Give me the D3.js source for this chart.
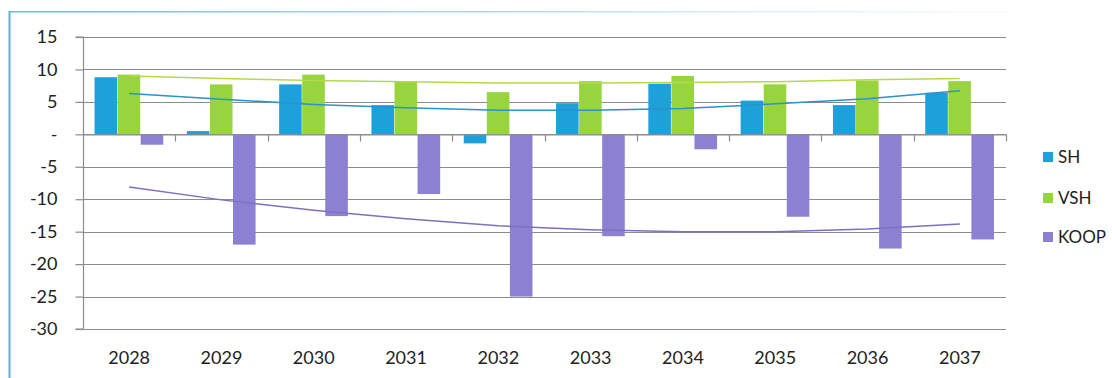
<!DOCTYPE html>
<html><head><meta charset="utf-8">
<script src="https://cdn.jsdelivr.net/npm/d3@7/dist/d3.min.js"></script>
<style>
html,body{margin:0;padding:0;background:#fff;}
svg{display:block;font-family:Lato,"Open Sans",sans-serif;}
</style></head>
<body><svg id="c" width="1112" height="378"></svg>
<script>
const years = ["2028","2029","2030","2031","2032","2033","2034","2035","2036","2037"];
const seriesNames = ["SH","VSH","KOOP"];
const SH   = [8.8, 0.5, 7.7, 4.5, -1.4, 4.8, 7.8, 5.2, 4.5, 6.4];
const VSH  = [9.2, 7.7, 9.2, 8.2, 6.5, 8.2, 9.0, 7.7, 8.3, 8.2];
const KOOP = [-1.6, -17.0, -12.6, -9.2, -25.0, -15.7, -2.3, -12.7, -17.6, -16.2];
const SH_trend   = [6.3, 5.4, 4.6, 4.1, 3.7, 3.7, 4.0, 4.7, 5.5, 6.7];
const VSH_trend  = [9.0, 8.6, 8.3, 8.1, 7.9, 7.9, 8.0, 8.1, 8.4, 8.6];
const KOOP_trend = [-8.1, -10.1, -11.7, -13.0, -14.1, -14.7, -15.0, -15.0, -14.6, -13.8];
const yTicks = [15, 10, 5, 0, -5, -10, -15, -20, -25, -30];

const colors = {SH:"#1ea0da", VSH:"#97d43e", KOOP:"#8c80d3"};
const trendColors = {SH:"#2a92cc", VSH:"#b6d94c", KOOP:"#7b71c2"};
const values = {SH, VSH, KOOP};
const trends = {SH:SH_trend, VSH:VSH_trend, KOOP:KOOP_trend};

const svg = d3.select("#c");
const L = 83, R = 1006, T = 37, B = 329;

// frame
const defs = svg.append("defs");
const g1 = defs.append("linearGradient").attr("id","topfade").attr("x1","0").attr("x2","1");
g1.append("stop").attr("offset","0").attr("stop-color","#6cb9e0").attr("stop-opacity",1);
g1.append("stop").attr("offset","0.5").attr("stop-color","#9ed0ea").attr("stop-opacity",0.8);
g1.append("stop").attr("offset","1").attr("stop-color","#e4f1f8").attr("stop-opacity",0.3);
svg.append("rect").attr("x",9).attr("y",11).attr("width",1000).attr("height",1.5).attr("fill","url(#topfade)");
svg.append("rect").attr("x",8.5).attr("y",11).attr("width",2).attr("height",367).attr("fill","#5db1dd");

const x = d3.scaleBand().domain(years).range([L, R]).paddingInner(0).paddingOuter(0);
const bw = x.bandwidth();
const x1 = d3.scaleBand().domain(seriesNames).range([bw/8, bw*7/8]).padding(0);
const y = d3.scaleLinear().domain([-30, 15]).range([B, T]);

// gridlines
svg.append("g").selectAll("line").data(yTicks).join("line")
  .attr("x1", L).attr("x2", R)
  .attr("y1", d => Math.round(y(d)) + 0.5).attr("y2", d => Math.round(y(d)) + 0.5)
  .attr("stroke", "#8c8c8c").attr("stroke-width", 1.2);

// y axis
const yAxis = d3.axisLeft(y).tickValues(yTicks).tickSize(8).tickPadding(18)
  .tickFormat(d => d === 0 ? "-" : String(d));
const ya = svg.append("g").attr("transform", `translate(${L + 0.5},0)`).call(yAxis);
ya.select(".domain").attr("stroke", "#8c8c8c").attr("stroke-width", 1.2).attr("d", `M-8,${y(15)}H0V${y(-30)}H-8`);
ya.selectAll(".tick line").attr("stroke", "#8c8c8c").attr("stroke-width", 1.2);
ya.selectAll(".tick text").attr("font-size", 18).attr("fill", "#222").attr("font-family","Lato,sans-serif");

// bars
const bars = svg.append("g");
seriesNames.forEach(s => {
  bars.selectAll(null).data(years).join("rect")
    .attr("x", d => x(d) + x1(s))
    .attr("width", x1.bandwidth() - 0.5)
    .attr("y", (d, i) => y(Math.max(0, values[s][i])))
    .attr("height", (d, i) => Math.abs(y(values[s][i]) - y(0)))
    .attr("fill", colors[s]);
});

// zero axis with category ticks
const xAxis = d3.axisBottom(x).tickSize(0).tickFormat("");
const xa = svg.append("g").attr("transform", `translate(0,${Math.round(y(0)) + 0.5})`).call(xAxis);
xa.select(".domain").attr("stroke", "#8c8c8c").attr("stroke-width", 1.2);
const boundaries = years.map(d => x(d)).concat([R]);
xa.selectAll(".bt").data(boundaries.slice(1)).join("line").attr("class","bt")
  .attr("x1", d => Math.round(d) + 0.5).attr("x2", d => Math.round(d) + 0.5)
  .attr("y1", 0).attr("y2", 7).attr("stroke", "#8c8c8c").attr("stroke-width", 1.2);

// category labels
svg.append("g").selectAll("text").data(years).join("text")
  .attr("x", d => x(d) + bw/2).attr("y", 364)
  .attr("text-anchor", "middle").attr("font-size", 18).attr("fill", "#222")
  .text(d => d);

// trendlines
const line = d3.line().x((d, i) => x(years[i]) + bw/2).y(d => y(d));
seriesNames.forEach(s => {
  svg.append("path").datum(trends[s]).attr("d", line)
    .attr("fill", "none").attr("stroke", trendColors[s]).attr("stroke-width", 1.5);
});

// legend
const lg = svg.append("g");
const legY = [157, 198, 237];
seriesNames.forEach((s, i) => {
  lg.append("rect").attr("x", 1043).attr("y", legY[i] - 5).attr("width", 10).attr("height", 10).attr("fill", colors[s]);
  lg.append("text").attr("x", 1058).attr("y", legY[i] + 6).attr("font-size", 17).attr("fill", "#222").text(s);
});
</script></body></html>
